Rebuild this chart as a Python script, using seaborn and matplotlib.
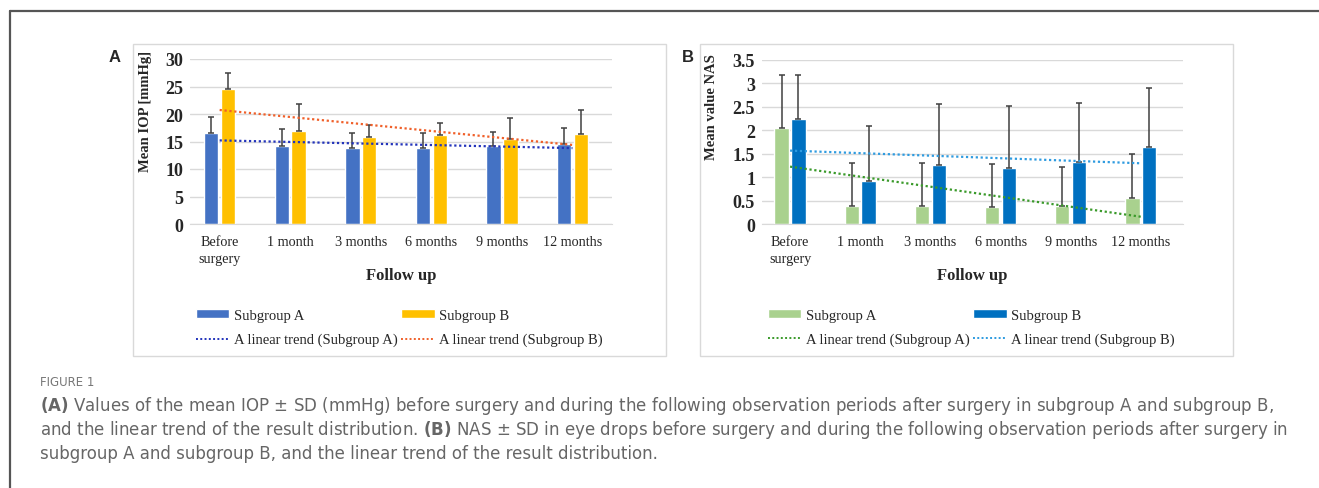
import numpy as np
import pandas as pd
import matplotlib
matplotlib.use("Agg")
import matplotlib.pyplot as plt
import seaborn as sns
from matplotlib.patches import Rectangle, Patch
from matplotlib.lines import Line2D

# data
months = ["Before\nsurgery", "1 month", "3 months", "6 months", "9 months", "12 months"]
groups = ["Subgroup A", "Subgroup B"]

iop_a = [16.5, 14.1, 13.9, 13.8, 14.2, 14.5]
iop_a_sd = [2.9, 3.1, 2.6, 2.7, 2.6, 3.0]
iop_b = [24.5, 16.9, 15.9, 16.1, 15.5, 16.4]
iop_b_sd = [3.0, 5.0, 2.1, 2.3, 3.8, 4.3]

nas_a = [2.04, 0.39, 0.39, 0.37, 0.39, 0.55]
nas_a_sd = [1.13, 0.90, 0.92, 0.91, 0.83, 0.95]
nas_b = [2.24, 0.92, 1.26, 1.19, 1.33, 1.63]
nas_b_sd = [0.93, 1.17, 1.30, 1.33, 1.25, 1.26]

sns.set_style("white")
plt.rcParams["font.family"] = ["Liberation Serif", "DejaVu Serif"]
plt.rcParams["mathtext.fontset"] = "custom"
plt.rcParams["mathtext.bf"] = "DejaVu Sans:bold"
plt.rcParams["mathtext.rm"] = "DejaVu Sans"

fig = plt.figure(figsize=(13.19, 4.89), dpi=100)
W, H = 1319, 489


def fx(px):
    return px / W


def fy(py):
    return 1 - py / H


# outer frame (top and left edge only)
fig.add_artist(Line2D([fx(10), 1.0], [fy(12), fy(12)], color="#555555", lw=1.6))
fig.add_artist(Line2D([fx(10), fx(10)], [fy(12), 0.0], color="#555555", lw=1.6))

# panel boxes
for x0, x1 in [(133, 666), (700, 1233)]:
    fig.add_artist(Rectangle((fx(x0), fy(357)), fx(x1 - x0), (357 - 45) / H,
                             fill=False, edgecolor="#d9d9d9", lw=1.0))


def panel(ax, a, a_sd, b, b_sd, colors, trend_colors, ymax, ystep, ylabel, label_xy, xlim):
    df = pd.DataFrame({
        "month": months * 2,
        "group": [groups[0]] * 6 + [groups[1]] * 6,
        "value": a + b,
    })
    sns.barplot(data=df, x="month", y="value", hue="group", order=months,
                hue_order=groups, palette=colors, width=0.48, gap=0.15,
                errorbar=None, saturation=1, legend=False, ax=ax, zorder=2)
    for cont, sd in zip(ax.containers, [a_sd, b_sd]):
        xs = [bar.get_x() + bar.get_width() / 2 for bar in cont]
        hs = [bar.get_height() for bar in cont]
        ax.errorbar(xs, hs, yerr=[np.zeros(6), sd], fmt="none", ecolor="#404040",
                    elinewidth=1.1, capsize=2.5, capthick=1.1, zorder=3)
    x = np.arange(6)
    for vals, c in zip([a, b], trend_colors):
        k, m = np.polyfit(x, vals, 1)
        ax.plot(x, k * x + m, linestyle=(0, (1, 1.2)), color=c, lw=1.6, zorder=4)

    ax.set_ylim(0, ymax)
    ax.set_xlim(*xlim)
    ticks = np.arange(0, ymax + 1e-9, ystep)
    ax.set_yticks(ticks)
    ax.set_yticklabels([f"{t:g}" for t in ticks], fontweight="bold", fontsize=13)
    ax.tick_params(axis="x", labelsize=10.2, length=0, pad=8, colors="#262626")
    ax.tick_params(axis="y", length=0, pad=5)
    for lab in ax.get_xticklabels():
        lab.set_linespacing(1.35)
    ax.grid(axis="y", color="#d9d9d9", lw=1.0, zorder=0)
    ax.set_axisbelow(True)
    for s in ["left", "right", "top"]:
        ax.spines[s].set_visible(False)
    ax.spines["bottom"].set_color("#d9d9d9")
    ax.set_ylabel(ylabel, fontweight="bold", fontsize=10.5)
    ax.yaxis.set_label_coords(*label_xy)
    ax.set_xlabel("Follow up", fontweight="bold", fontsize=12, labelpad=2)

    handles = [Patch(facecolor=colors[0]),
               Line2D([], [], color=trend_colors[0], linestyle=(0, (1, 1.2)), lw=1.4),
               Patch(facecolor=colors[1]),
               Line2D([], [], color=trend_colors[1], linestyle=(0, (1, 1.2)), lw=1.4)]
    labels = ["Subgroup A", "A linear trend (Subgroup A)",
              "Subgroup B", "A linear trend (Subgroup B)"]
    ax.legend(handles, labels, ncol=2, frameon=False, fontsize=10.5,
              loc="upper left", bbox_to_anchor=(0.0, -0.48),
              handlelength=2.3, handleheight=0.55, handletextpad=0.3,
              columnspacing=0.25, labelspacing=0.75, borderaxespad=0)


ax1 = fig.add_axes([fx(190), fy(225), fx(612 - 190), (225 - 60) / H])
panel(ax1, iop_a, iop_a_sd, iop_b, iop_b_sd, ["#4472c4", "#ffc000"],
      ["#2233bb", "#f0602a"], 30, 5, "Mean IOP [mmHg]", (-0.09, 0.69), (-0.42, 5.56))

ax2 = fig.add_axes([fx(762), fy(225), fx(1183 - 762), (225 - 60.7) / H])
panel(ax2, nas_a, nas_a_sd, nas_b, nas_b_sd, ["#a9d18e", "#0070c0"],
      ["#3a9a2a", "#2e9be0"], 3.5, 0.5, "Mean value NAS", (-0.105, 0.715), (-0.4, 5.6))

fig.text(fx(115), fy(57), "A", fontsize=12, fontweight="bold", family="Liberation Sans",
         ha="center", va="center")
fig.text(fx(688), fy(57), "B", fontsize=12, fontweight="bold", family="Liberation Sans",
         ha="center", va="center")

# caption
cap = "#666666"
cap_x = 40
fig.text(fx(cap_x), fy(383), "FIGURE 1", fontsize=8.5, color="#777777", family="DejaVu Sans",
         va="center")
lines = [
    r"$\mathbf{(A)}$ Values of the mean IOP $\pm$ SD (mmHg) before surgery and during the following "
    "observation periods after surgery in subgroup A and subgroup B,",
    r"and the linear trend of the result distribution. $\mathbf{(B)}$ NAS $\pm$ SD in eye drops before "
    "surgery and during the following observation periods after surgery in",
    "subgroup A and subgroup B, and the linear trend of the result distribution.",
]
texts = [fig.text(fx(cap_x), fy(406 + 24 * i), t, fontsize=11, color=cap,
                  family="DejaVu Sans", va="center") for i, t in enumerate(lines)]
# fit the second caption line to the width it has in the figure
renderer = fig.canvas.get_renderer()
w = texts[1].get_window_extent(renderer).width
size = 11 * 1250 / w
for t in texts:
    t.set_fontsize(size)

fig.savefig("out.png", dpi=100)
